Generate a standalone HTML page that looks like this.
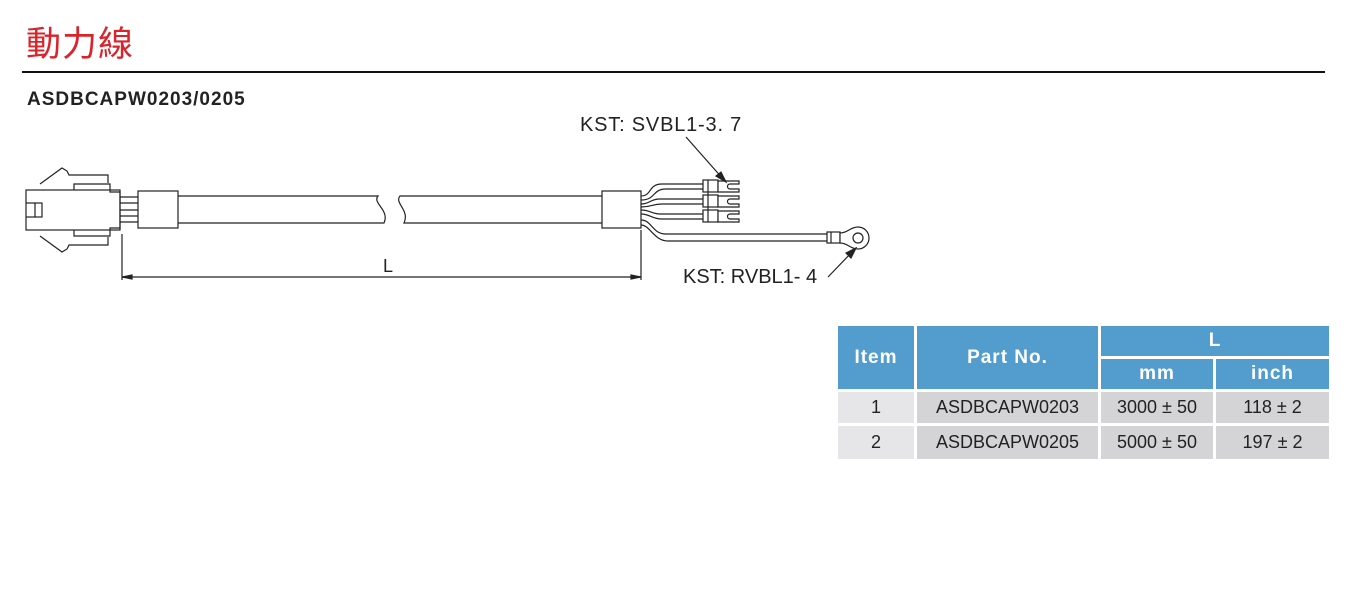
<!DOCTYPE html>
<html><head><meta charset="utf-8"><style>
body{margin:0;width:1371px;height:589px;background:#fff;position:relative;overflow:hidden;font-family:"Liberation Sans",Arial,sans-serif}
.t{position:absolute;left:26px;top:16px;font-size:35px;color:#d9242b;font-family:"Liberation Sans","Noto Sans CJK TC",sans-serif;letter-spacing:1px}
.hr{position:absolute;left:22px;top:71px;width:1303px;height:2px;background:#111}
.sub{position:absolute;left:27px;top:89px;font-size:19px;font-weight:bold;color:#222;letter-spacing:1px}
.c{position:absolute;display:flex;align-items:center;justify-content:center;font-size:18px;color:#222}
.h{background:#529cce;color:#fff;font-weight:bold;font-size:19px;letter-spacing:1px}
.a{background:#e6e6e8}.b{background:#d4d4d6}
</style></head><body>
<div class="t">動力線</div>
<div class="hr"></div>
<div class="sub">ASDBCAPW0203/0205</div>
<svg width="1371" height="589" style="position:absolute;left:0;top:0" fill="none" stroke="#222" stroke-width="1.2">
<rect x="26" y="190" width="94" height="40" fill="#fff"/>
<rect x="35" y="203" width="7" height="14"/><line x1="26" y1="203" x2="35" y2="203"/><line x1="26" y1="217" x2="35" y2="217"/>
<polyline points="40,184 62,168 67,171 69,175 108,175 108,183" />
<polyline points="40,236 62,252 67,249 69,245 108,245 108,237" />
<polyline points="74,190 74,184 110,184 110,192 120,192 120,228 110,228 110,236 74,236 74,230"/>
<line x1="120" y1="197" x2="138" y2="197"/><line x1="120" y1="203" x2="138" y2="203"/><line x1="120" y1="210" x2="138" y2="210"/><line x1="120" y1="216" x2="138" y2="216"/><line x1="120" y1="222" x2="138" y2="222"/>
<rect x="138" y="191" width="40" height="37" fill="#fff"/>
<path d="M178 196 H378 C372 203,390 210,384 223 H178"/>
<path d="M602 196 H400 C394 203,410 210,404 223 H602"/>
<rect x="602" y="191" width="39" height="37" fill="#fff"/>
<path d="M641 196 C652 196,648 184,662 184 H703"/><path d="M641 200 C656 200,652 189,666 189 H703"/>
<path d="M641 204 C650 204,650 199,660 199 H703"/><path d="M641 207 C652 207,652 204,662 204 H703"/>
<path d="M641 210 C650 210,652 214,660 214 H703"/><path d="M641 214 C650 214,652 219,662 219 H703"/>
<path d="M641 220 C652 220,652 234,666 234 H827"/><path d="M641 225 C650 225,654 241,668 241 H827"/>
<g fill="#fff">
<rect x="703" y="180" width="15" height="12"/><rect x="703" y="195" width="15" height="12"/><rect x="703" y="210" width="15" height="12"/>
<line x1="708" y1="180" x2="708" y2="222"/>
<path d="M718 181 H739 V184 H730 A2.5 2.5 0 0 0 730 189 H739 V192 H718 Z"/>
<path d="M718 196 H739 V199 H730 A2.5 2.5 0 0 0 730 204 H739 V207 H718 Z"/>
<path d="M718 211 H739 V214 H730 A2.5 2.5 0 0 0 730 219 H739 V222 H718 Z"/>
<rect x="827" y="232" width="13" height="11"/><line x1="831" y1="232" x2="831" y2="243"/>
<path d="M840 233 C848 233,850 227,858 227 A11 11 0 0 1 858 249 C850 249,848 243,840 243 Z"/>
<circle cx="858" cy="238" r="5"/>
</g>
<line x1="122" y1="234" x2="122" y2="280"/><line x1="641" y1="230" x2="641" y2="280"/>
<line x1="122" y1="277" x2="641" y2="277"/>
<path d="M122 277 L132 275 L132 279Z M641 277 L631 275 L631 279Z" fill="#222"/>
<line x1="686" y1="137" x2="724" y2="180"/><path d="M726 182 L716 176 L721 172Z" fill="#222"/>
<line x1="828" y1="277" x2="854" y2="250"/><path d="M856 248 L851 258 L846 253Z" fill="#222"/>
<g fill="#222" stroke="none" font-family="Liberation Sans,sans-serif">
<text x="580" y="131" font-size="20" letter-spacing="0.8">KST: SVBL1-3. 7</text>
<text x="683" y="283" font-size="20">KST: RVBL1- 4</text>
<text x="383" y="272" font-size="18">L</text>
</g>
</svg>
<div class="c h" style="left:838px;top:326px;width:76px;height:63px">Item</div>
<div class="c h" style="left:917px;top:326px;width:181px;height:63px">Part No.</div>
<div class="c h" style="left:1101px;top:326px;width:228px;height:30px">L</div>
<div class="c h" style="left:1101px;top:359px;width:112px;height:30px">mm</div>
<div class="c h" style="left:1216px;top:359px;width:113px;height:30px">inch</div>
<div class="c a" style="left:838px;top:392px;width:76px;height:31px">1</div>
<div class="c b" style="left:917px;top:392px;width:181px;height:31px">ASDBCAPW0203</div>
<div class="c b" style="left:1101px;top:392px;width:112px;height:31px">3000 ± 50</div>
<div class="c b" style="left:1216px;top:392px;width:113px;height:31px">118 ± 2</div>
<div class="c a" style="left:838px;top:426px;width:76px;height:33px">2</div>
<div class="c b" style="left:917px;top:426px;width:181px;height:33px">ASDBCAPW0205</div>
<div class="c b" style="left:1101px;top:426px;width:112px;height:33px">5000 ± 50</div>
<div class="c b" style="left:1216px;top:426px;width:113px;height:33px">197 ± 2</div>
</body></html>
